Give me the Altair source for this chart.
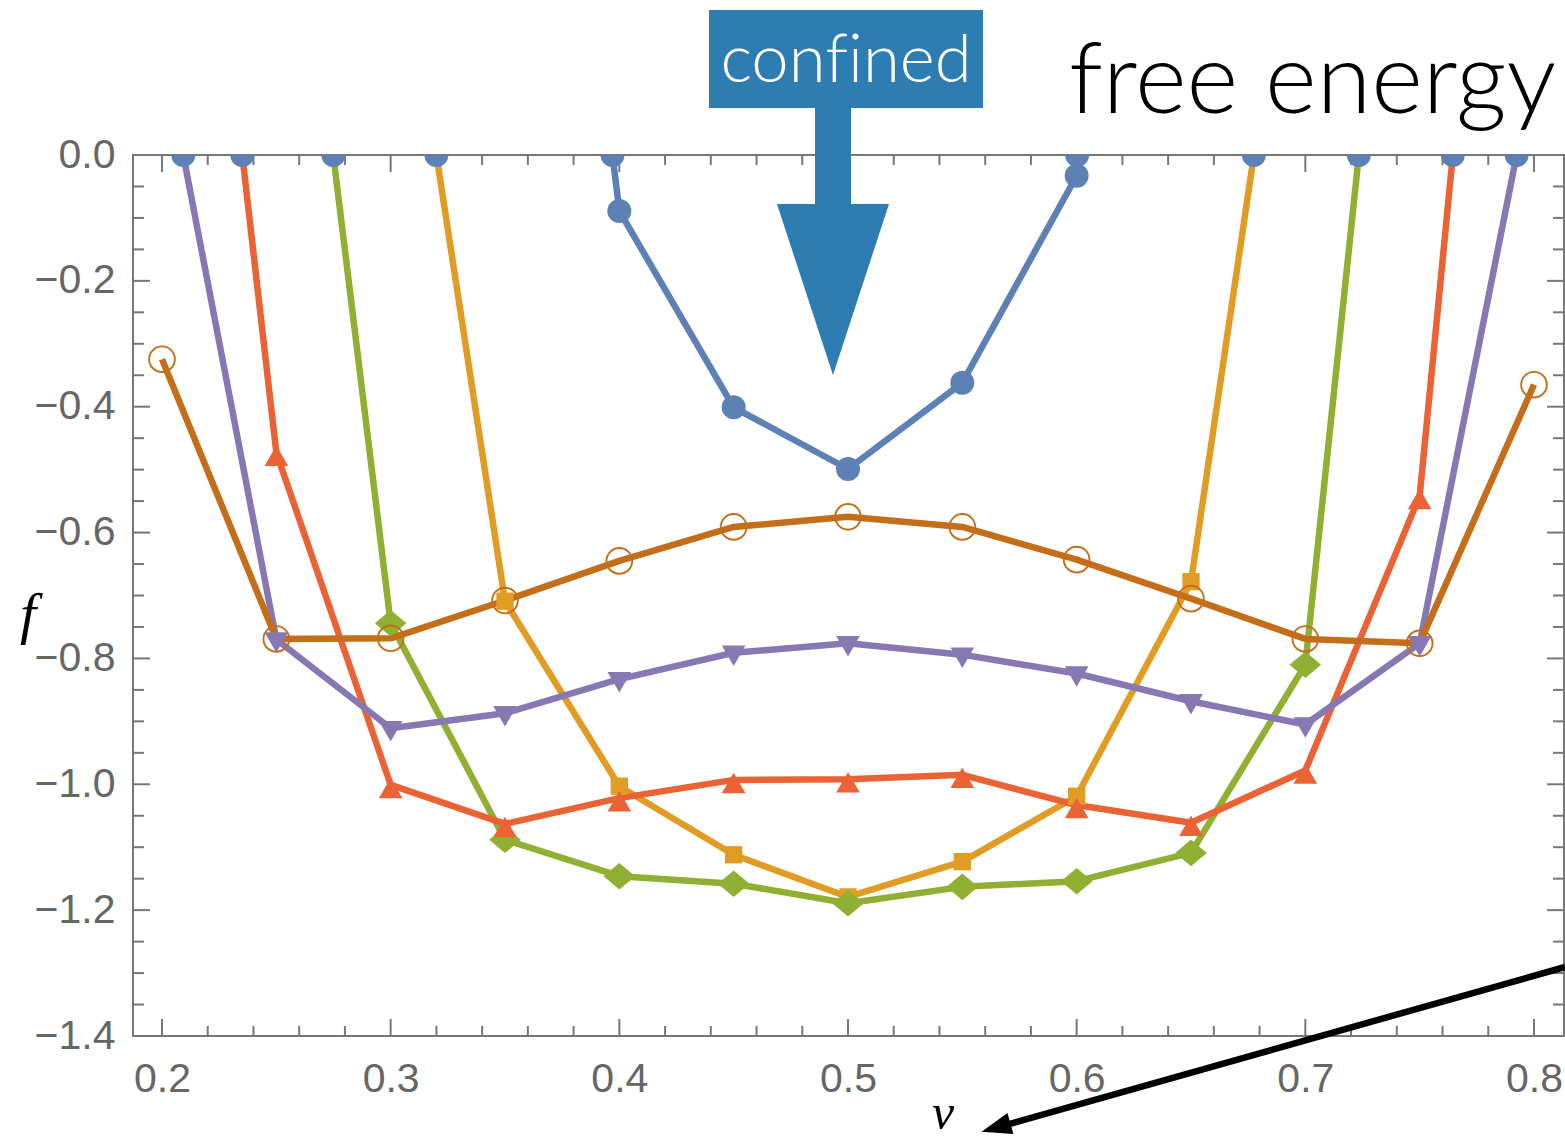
import altair as alt
import pandas as pd

# ---------------- data ----------------
series_names = ["s1", "s2", "s3", "s4", "s5", "s6"]
series_colors = ["#5E81B5", "#E19C24", "#8FB032", "#EB6235", "#8778B3", "#C56E1A"]

blue_x = [0.397, 0.40, 0.45, 0.50, 0.55, 0.60, 0.6002]
blue_y = [0.0, -0.089, -0.401, -0.499, -0.362, -0.033, 0.0]

orange_x = [0.320, 0.35, 0.40, 0.45, 0.50, 0.55, 0.60, 0.65, 0.6775]
orange_y = [0.0, -0.709, -1.003, -1.112, -1.179, -1.123, -1.019, -0.678, 0.0]

green_x = [0.2749, 0.30, 0.35, 0.40, 0.45, 0.50, 0.55, 0.60, 0.65, 0.70, 0.7234]
green_y = [0.0, -0.744, -1.088, -1.146, -1.158, -1.189, -1.163, -1.154, -1.109, -0.810, 0.0]

red_x = [0.2351, 0.25, 0.30, 0.35, 0.40, 0.45, 0.50, 0.55, 0.60, 0.65, 0.70, 0.75, 0.7645]
red_y = [0.0, -0.473, -1.001, -1.063, -1.022, -0.993, -0.992, -0.985, -1.033, -1.061, -0.978, -0.542, 0.0]

purple_x = [0.2093, 0.25, 0.30, 0.35, 0.40, 0.45, 0.50, 0.55, 0.60, 0.65, 0.70, 0.75, 0.7924]
purple_y = [0.0, -0.770, -0.911, -0.887, -0.833, -0.791, -0.776, -0.794, -0.824, -0.868, -0.905, -0.776, 0.0]

brown_x = [0.20, 0.25, 0.30, 0.35, 0.40, 0.45, 0.50, 0.55, 0.60, 0.65, 0.70, 0.75, 0.80]
brown_y = [-0.3245, -0.769, -0.768, -0.708, -0.645, -0.591, -0.575, -0.591, -0.643, -0.705, -0.769, -0.776, -0.365]

x_major = [0.2, 0.3, 0.4, 0.5, 0.6, 0.7, 0.8]
x_minor = [0.22, 0.24, 0.26, 0.28, 0.32, 0.34, 0.36, 0.38, 0.42, 0.44, 0.46, 0.48,
           0.52, 0.54, 0.56, 0.58, 0.62, 0.64, 0.66, 0.68, 0.72, 0.74, 0.76, 0.78]
y_major = [0.0, -0.2, -0.4, -0.6, -0.8, -1.0, -1.2, -1.4]
y_minor = [-0.05, -0.1, -0.15, -0.25, -0.3, -0.35, -0.45, -0.5, -0.55, -0.65, -0.7, -0.75,
           -0.85, -0.9, -0.95, -1.05, -1.1, -1.15, -1.25, -1.3, -1.35]

# ---------------- layout ----------------
W, H = 1431, 881
PAD = {"left": 133, "top": 155, "right": 1, "bottom": 108}
AX_COL = "#777777"
LBL_COL = "#666666"

rows = []
for name, xs, ys in [("s1", blue_x, blue_y), ("s2", orange_x, orange_y), ("s3", green_x, green_y),
                     ("s4", red_x, red_y), ("s5", purple_x, purple_y), ("s6", brown_x, brown_y)]:
    for i, (xv, yv) in enumerate(zip(xs, ys)):
        rows.append({"series": name, "i": i, "x": xv, "y": yv})
df = pd.DataFrame(rows)

minus_expr = "replace(datum.label, '-', '\u2212')"
xscale = alt.Scale(domain=[0.18732, 0.81312], nice=False, zero=False)
yscale = alt.Scale(domain=[-1.4, 0.0], nice=False, zero=False)
xaxis = alt.Axis(values=x_major, format=".1f", ticks=False, tickSize=0, domain=False, grid=False,
                 labelFontSize=41, labelColor=LBL_COL, labelFont="Liberation Sans",
                 labelPadding=23, labelFlush=False, labelOverlap=False, title=None)
yaxis = alt.Axis(values=y_major, format=".1f", ticks=False, tickSize=0, domain=False, grid=False,
                 labelFontSize=41, labelColor=LBL_COL, labelFont="Liberation Sans",
                 labelPadding=18, labelFlush=False, labelOverlap=False, title=None,
                 labelExpr=minus_expr)
X = alt.X("x:Q", scale=xscale, axis=xaxis)
Y = alt.Y("y:Q", scale=yscale, axis=yaxis)

layers = []

# tick marks (inward, on all four sides)
def xticks(vals, length):
    d = pd.DataFrame({"x": vals})
    b = alt.Chart(d).mark_rule(color=AX_COL, strokeWidth=2).encode(x=X, y=alt.value(H), y2=alt.value(H - length))
    t = alt.Chart(d).mark_rule(color=AX_COL, strokeWidth=2).encode(x=X, y=alt.value(0), y2=alt.value(length))
    return [b, t]

def yticks(vals, length):
    d = pd.DataFrame({"y": vals})
    l = alt.Chart(d).mark_rule(color=AX_COL, strokeWidth=2).encode(y=Y, x=alt.value(0), x2=alt.value(length))
    r = alt.Chart(d).mark_rule(color=AX_COL, strokeWidth=2).encode(y=Y, x=alt.value(W), x2=alt.value(W - length))
    return [l, r]

layers += xticks(x_major, 17) + xticks(x_minor, 10) + yticks(y_major, 17) + yticks(y_minor, 11)

# lines
lines = alt.Chart(df).mark_line(strokeWidth=6.5, strokeJoin="round", clip=True).encode(
    x=X, y=Y,
    color=alt.Color("series:N", scale=alt.Scale(domain=series_names, range=series_colors), legend=None),
    order=alt.Order("i:Q"),
)
layers.append(lines)

# markers
diamond = "M 0 -0.84 L 1 0 L 0 0.84 L -1 0 Z"
marker_specs = [
    ("s1", dict(shape="circle", filled=True, size=576)),
    ("s2", dict(shape="square", filled=True, size=300)),
    ("s3", dict(shape=diamond, filled=True, size=1000)),
    ("s4", dict(shape="triangle-up", filled=True, size=560, yOffset=3)),
    ("s5", dict(shape="triangle-down", filled=True, size=560, yOffset=3)),
    ("s6", dict(shape="circle", filled=False, size=660, strokeWidth=1.9)),
]
for (name, props), col in zip(marker_specs, series_colors):
    m = alt.Chart(df).transform_filter(
        (alt.datum.series == name) & (alt.datum.y < 0)
    ).mark_point(color=col, opacity=1, **props).encode(x=X, y=Y)
    layers.append(m)

# blue dots at f = 0 (clipped by the frame)
zero = alt.Chart(df).transform_filter(alt.datum.y == 0).mark_point(
    shape="circle", filled=True, size=576, color=series_colors[0], opacity=1, clip=True
).encode(x=X, y=Y)
layers.append(zero)

# ---------------- annotations ----------------
one = pd.DataFrame({"k": [0]})
BANNER = "#2D7DB2"
banner = alt.Chart(one).mark_rect(color=BANNER).encode(
    x=alt.value(576), x2=alt.value(850), y=alt.value(-145), y2=alt.value(-47))
shaft = alt.Chart(one).mark_rect(color=BANNER).encode(
    x=alt.value(682), x2=alt.value(718), y=alt.value(-48), y2=alt.value(51))
head = alt.Chart(one).mark_point(
    shape="M -0.655 -1 L 0.655 -1 L 0 1 Z", size=29241, filled=True, color=BANNER, opacity=1
).encode(x=alt.value(700), y=alt.value(134.5))
confined = alt.Chart(one).mark_text(
    text="conf\u200cined", font="Lato", fontWeight=300, fontSize=67, color="white",
    align="center", baseline="alphabetic"
).encode(x=alt.value(713), y=alt.value(-73))
free_energy = alt.Chart(one).mark_text(
    text="free energy", font="Lato", fontWeight=300, fontSize=99, color="black",
    align="left", baseline="alphabetic"
).encode(x=alt.value(936), y=alt.value(-42))
f_label = alt.Chart(one).mark_text(
    text="f", font="Liberation Serif", fontStyle="italic", fontSize=58, color="black",
    align="center", baseline="alphabetic"
).encode(x=alt.value(-105), y=alt.value(478))
nu_label = alt.Chart(one).mark_text(
    text="ν", font="Liberation Serif", fontStyle="italic", fontSize=50, color="black",
    align="center", baseline="alphabetic"
).encode(x=alt.value(810), y=alt.value(974))
arrow_line = alt.Chart(one).mark_rule(color="black", strokeWidth=6.5).encode(
    x=alt.value(1432), y=alt.value(812), x2=alt.value(866), y2=alt.value(972))
arrow_head = alt.Chart(one).mark_point(
    shape="M 1 0 L -1 -0.72 L -1 0.72 Z", size=900, filled=True, color="black", opacity=1, angle=164.2
).encode(x=alt.value(863), y=alt.value(972.6))

layers += [banner, shaft, head, confined, free_energy, f_label, nu_label, arrow_line, arrow_head]

chart = alt.layer(*layers).properties(
    width=W, height=H,
    autosize=alt.AutoSizeParams(type="none"),
    padding=PAD,
    background="white",
).configure_view(stroke=AX_COL, strokeWidth=2)

chart.save("out.html", embed_options={"renderer": "svg", "actions": False})
